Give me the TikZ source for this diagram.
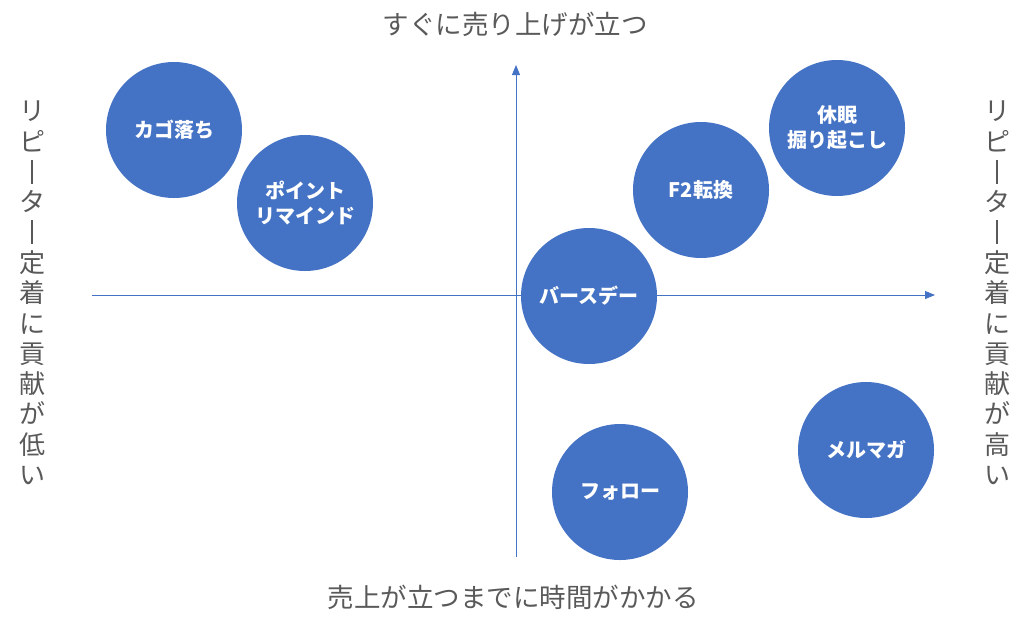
\documentclass[tikz,border=0pt]{standalone}
\usepackage{fontspec}
\setmainfont{Noto Sans CJK JP}
\usetikzlibrary{arrows.meta}
\definecolor{obl}{HTML}{4472C4}
\definecolor{tgray}{HTML}{595959}
\newcommand{\vbar}{\makebox[1em]{\raisebox{-0.08em}{\rule{0.09em}{0.92em}}}}
\tikzset{
  bubble/.style={circle, fill=obl, minimum size=136pt, inner sep=0pt, text=white,
    font=\fontsize{20}{25}\selectfont\bfseries, align=center},
  axis/.style={draw=obl, line width=0.9pt, -{Triangle[length=10pt,width=8pt]}},
  lab/.style={text=tgray, font=\fontsize{26.5}{30}\selectfont, inner sep=0pt},
  vlab/.style={text=tgray, font=\fontsize{26}{30.3}\selectfont, inner sep=0pt, align=center}
}
\begin{document}
\begin{tikzpicture}[x=1pt,y=-1pt]
\useasboundingbox (0,0) rectangle (1024,630);
% axes
\coordinate (xs) at (92,295);
\coordinate (xe) at (935,295);
\coordinate (ys) at (516,557);
\coordinate (ye) at (516,65);
\draw[axis] (xs) -- (xe);
\draw[axis] (ys) -- (ye);
% labels
\node[lab] (top) at (515,24) {すぐに売り上げが立つ};
\node[lab] (bottom) at (513,597) {売上が立つまでに時間がかかる};
\node[vlab] (left) at (32,293) {リ\\ピ\\\vbar\\タ\\\vbar\\定\\着\\に\\貢\\献\\が\\低\\い};
\node[vlab] (right) at (997,293) {リ\\ピ\\\vbar\\タ\\\vbar\\定\\着\\に\\貢\\献\\が\\高\\い};
% bubbles
\node[bubble] (kago) at (174,130) {カゴ落ち};
\node[bubble] (point) at (305,203) {ポイント\\リマインド};
\node[bubble] (kyumin) at (837,128) {休眠\\掘り起こし};
\node[bubble] (f2) at (701,190) {F2転換};
\node[bubble] (bday) at (589,296) {バースデー};
\node[bubble] (mail) at (866,450) {メルマガ};
\node[bubble] (follow) at (620,492) {フォロー};
\end{tikzpicture}
\end{document}
